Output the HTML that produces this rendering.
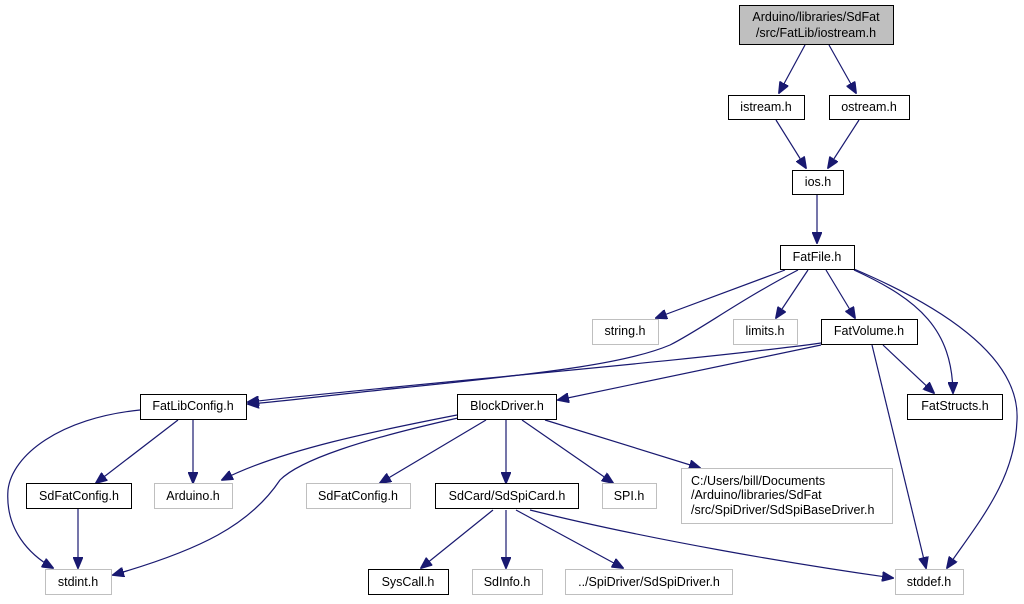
<!DOCTYPE html>
<html><head><meta charset="utf-8"><style>
html,body{margin:0;padding:0;background:#fff;width:1024px;height:604px;overflow:hidden}
svg text{font-family:"Liberation Sans",Arial,sans-serif;font-size:12.5px;fill:#000}
</style></head><body>
<svg width="1024" height="604" viewBox="0 0 1024 604" xmlns="http://www.w3.org/2000/svg">
<defs><marker id="a" markerWidth="12" markerHeight="10" refX="11" refY="5" orient="auto" markerUnits="userSpaceOnUse"><path d="M0,0 L12,5 L0,10 z" fill="#191970" stroke="#191970"/></marker></defs>
<g fill="none" stroke="#191970" stroke-width="1.2" marker-end="url(#a)">
<path d="M805,45 L779,93"/>
<path d="M829,45 L856,93"/>
<path d="M776,120 L806,168"/>
<path d="M859,120 L828,168"/>
<path d="M817,195 L817,243"/>
<path d="M785,270 L656,318"/>
<path d="M798,270 C740,300 700,330 670,345 C630,362 560,372 400,388 C320,396 280,402 248,404"/>
<path d="M821,343 C700,360 400,385 248,402"/>
<path d="M808,270 L776,318"/>
<path d="M826,270 L855,318"/>
<path d="M854,270 C920,300 952,330 953,393"/>
<path d="M854,269 C950,310 1020,360 1017,420 C1015,480 980,520 947,568"/>
<path d="M821,345 L558,400"/>
<path d="M883,345 L934,393"/>
<path d="M872,345 L926,568"/>
<path d="M140,410 C60,418 12,455 8,490 C5,530 30,555 53,568"/>
<path d="M178,420 L96,483"/>
<path d="M193,420 L193,483"/>
<path d="M457,415 C380,430 280,450 222,480"/>
<path d="M458,418 C360,440 300,460 280,480 C250,525 200,550 113,575"/>
<path d="M486,420 L380,483"/>
<path d="M506,420 L506,483"/>
<path d="M522,420 L613,483"/>
<path d="M545,420 L700,468"/>
<path d="M78,509 L78,568"/>
<path d="M493,510 L421,568"/>
<path d="M506,510 L506,568"/>
<path d="M516,510 L623,568"/>
<path d="M530,510 C650,540 800,565 893,578"/>
</g>
<g stroke-width="1">
<rect x="739.5" y="5.5" width="154" height="39" fill="#bfbfbf" stroke="#000"/>
<rect x="728.5" y="95.5" width="76" height="24" fill="#fff" stroke="#000"/>
<rect x="829.5" y="95.5" width="80" height="24" fill="#fff" stroke="#000"/>
<rect x="792.5" y="170.5" width="51" height="24" fill="#fff" stroke="#000"/>
<rect x="780.5" y="245.5" width="74" height="24" fill="#fff" stroke="#000"/>
<rect x="592.5" y="319.5" width="66" height="25" fill="#fff" stroke="#bfbfbf"/>
<rect x="733.5" y="319.5" width="64" height="25" fill="#fff" stroke="#bfbfbf"/>
<rect x="821.5" y="319.5" width="96" height="25" fill="#fff" stroke="#000"/>
<rect x="907.5" y="394.5" width="95" height="25" fill="#fff" stroke="#000"/>
<rect x="140.5" y="394.5" width="106" height="25" fill="#fff" stroke="#000"/>
<rect x="457.5" y="394.5" width="99" height="25" fill="#fff" stroke="#000"/>
<rect x="26.5" y="483.5" width="105" height="25" fill="#fff" stroke="#000"/>
<rect x="154.5" y="483.5" width="78" height="25" fill="#fff" stroke="#bfbfbf"/>
<rect x="306.5" y="483.5" width="104" height="25" fill="#fff" stroke="#bfbfbf"/>
<rect x="435.5" y="483.5" width="143" height="25" fill="#fff" stroke="#000"/>
<rect x="602.5" y="483.5" width="54" height="25" fill="#fff" stroke="#bfbfbf"/>
<rect x="681.5" y="468.5" width="211" height="55" fill="#fff" stroke="#bfbfbf"/>
<rect x="45.5" y="569.5" width="66" height="25" fill="#fff" stroke="#bfbfbf"/>
<rect x="368.5" y="569.5" width="80" height="25" fill="#fff" stroke="#000"/>
<rect x="472.5" y="569.5" width="70" height="25" fill="#fff" stroke="#bfbfbf"/>
<rect x="565.5" y="569.5" width="167" height="25" fill="#fff" stroke="#bfbfbf"/>
<rect x="895.5" y="569.5" width="68" height="25" fill="#fff" stroke="#bfbfbf"/>
</g>
<g text-anchor="middle">
<text x="816" y="21">Arduino/libraries/SdFat</text>
<text x="816" y="37">/src/FatLib/iostream.h</text>
<text x="766" y="111">istream.h</text>
<text x="869" y="111">ostream.h</text>
<text x="818" y="186">ios.h</text>
<text x="817" y="261">FatFile.h</text>
<text x="625" y="335">string.h</text>
<text x="765" y="335">limits.h</text>
<text x="869" y="335">FatVolume.h</text>
<text x="955" y="410">FatStructs.h</text>
<text x="193" y="410">FatLibConfig.h</text>
<text x="507" y="410">BlockDriver.h</text>
<text x="79" y="500">SdFatConfig.h</text>
<text x="193" y="500">Arduino.h</text>
<text x="358" y="500">SdFatConfig.h</text>
<text x="507" y="500">SdCard/SdSpiCard.h</text>
<text x="629" y="500">SPI.h</text>
<text x="78" y="586">stdint.h</text>
<text x="408" y="586">SysCall.h</text>
<text x="507" y="586">SdInfo.h</text>
<text x="649" y="586">../SpiDriver/SdSpiDriver.h</text>
<text x="929" y="586">stddef.h</text>
</g>
<text x="691" y="485">C:/Users/bill/Documents</text>
<text x="691" y="499">/Arduino/libraries/SdFat</text>
<text x="691" y="514">/src/SpiDriver/SdSpiBaseDriver.h</text>
</svg>
</body></html>
